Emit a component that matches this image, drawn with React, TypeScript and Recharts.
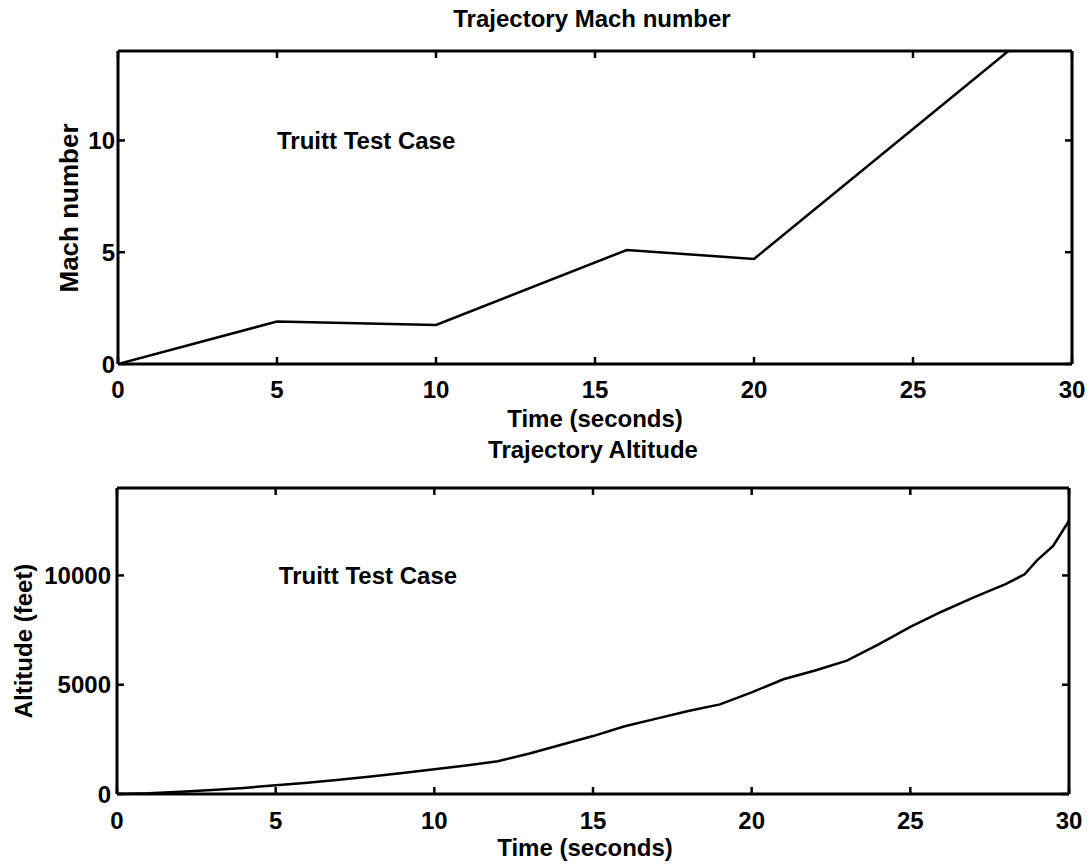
import {FunctionComponent, ReactNode} from 'react';
import {LineChart, Line, XAxis, YAxis, ReferenceDot} from 'recharts';

const machTime = [0, 5, 10, 16, 20, 28];
const machValue = [0, 1.9, 1.75, 5.1, 4.7, 14];

const altTime = [0, 1, 2, 3, 4, 5, 6, 7, 8, 9, 10, 11, 12, 13, 14, 15, 16, 17, 18, 19, 20, 21, 22, 23, 24, 25, 26, 27, 28, 28.6, 29, 29.5, 30];
const altValue = [0, 30, 100, 180, 280, 400, 520, 650, 800, 960, 1130, 1300, 1500, 1850, 2250, 2650, 3100, 3450, 3800, 4100, 4650, 5250, 5650, 6100, 6850, 7650, 8350, 9000, 9600, 10050, 10700, 11350, 12500];

const timeTicks = [0, 5, 10, 15, 20, 25, 30];
const machTicks = [0, 5, 10];
const altTicks = [0, 5000, 10000];

const machData = machTime.map((t, i) => ({t, v: machValue[i]}));
const altData = altTime.map((t, i) => ({t, v: altValue[i]}));

const FONT = '"Liberation Sans", Arial, Helvetica, sans-serif';
const textStyle = {fontFamily: FONT, fontSize: 24, fontWeight: 700, fill: '#000'};
const axisLine = {stroke: '#000', strokeWidth: 3};
const TICK = 7;

// inward tick marks (matlab style) drawn by the tick renderer itself
const bottomTick = (margin: number) => (props: any) => {
  const {x, y, payload} = props;
  const base = y - margin;
  return (
    <g>
      <line x1={x} x2={x} y1={base} y2={base - TICK} stroke="#000" strokeWidth={2.5} />
      <text x={x} y={y} dy="0.71em" textAnchor="middle" style={textStyle}>{payload.value}</text>
    </g>
  );
};

const leftTick = (margin: number) => (props: any) => {
  const {x, y, payload} = props;
  const base = x + margin;
  return (
    <g>
      <line x1={base} x2={base + TICK} y1={y} y2={y} stroke="#000" strokeWidth={2.5} />
      <text x={x} y={y} dy="0.355em" textAnchor="end" style={textStyle}>{payload.value}</text>
    </g>
  );
};

const topTick = (props: any) => (
  <line x1={props.x} x2={props.x} y1={props.y} y2={props.y + TICK} stroke="#000" strokeWidth={2.5} />
);

const rightTick = (props: any) => (
  <line x1={props.x} x2={props.x - TICK} y1={props.y} y2={props.y} stroke="#000" strokeWidth={2.5} />
);

// free text placed in chart pixels (titles and axis captions)
const caption = (value: string, x: number, y: number, rotate = false, size = 24) => ({
  content: () => (
    <text
      x={x}
      y={y}
      textAnchor="middle"
      dominantBaseline={rotate ? 'central' : 'alphabetic'}
      transform={rotate ? `rotate(-90 ${x} ${y})` : undefined}
      style={{...textStyle, fontSize: size}}
    >
      {value}
    </text>
  ),
});

type PanelProps = {
  data: {t: number; v: number}[];
  yMax: number;
  yTicks: number[];
  top: number;
  height: number;
  margin: {top: number; right: number; bottom: number; left: number};
  yWidth: number;
  xHeight: number;
  xMargin: number;
  yMargin: number;
  title: ReactNode;
  xLabel: ReactNode;
  yLabel: ReactNode;
  note: {t: number; v: number};
};

const Panel: FunctionComponent<PanelProps> = (p) => (
  <div style={{position: 'absolute', left: 0, top: p.top}}>
    <LineChart width={1089} height={p.height} data={p.data} margin={p.margin}>
      <XAxis
        xAxisId="top"
        orientation="top"
        dataKey="t"
        type="number"
        domain={[0, 30]}
        ticks={timeTicks}
        allowDataOverflow
        height={2}
        tick={topTick}
        tickSize={0}
        tickMargin={0}
        tickLine={false}
        axisLine={axisLine}
        label={p.title as any}
      />
      <XAxis
        xAxisId="bottom"
        dataKey="t"
        type="number"
        domain={[0, 30]}
        ticks={timeTicks}
        allowDataOverflow
        height={p.xHeight}
        tickSize={0}
        tickMargin={p.xMargin}
        tick={bottomTick(p.xMargin)}
        tickLine={false}
        axisLine={axisLine}
        label={p.xLabel as any}
      />
      <YAxis
        yAxisId="left"
        type="number"
        domain={[0, p.yMax]}
        ticks={p.yTicks}
        allowDataOverflow
        width={p.yWidth}
        tickSize={0}
        tickMargin={p.yMargin}
        tick={leftTick(p.yMargin)}
        tickLine={false}
        axisLine={axisLine}
        label={p.yLabel as any}
      />
      <YAxis
        yAxisId="right"
        orientation="right"
        type="number"
        domain={[0, p.yMax]}
        ticks={p.yTicks}
        allowDataOverflow
        width={1}
        tick={rightTick}
        tickSize={0}
        tickMargin={0}
        tickLine={false}
        axisLine={axisLine}
      />
      <Line
        xAxisId="bottom"
        yAxisId="left"
        dataKey="v"
        type="linear"
        stroke="#000"
        strokeWidth={2.5}
        dot={false}
        isAnimationActive={false}
      />
      <ReferenceDot
        xAxisId="bottom"
        yAxisId="left"
        x={p.note.t}
        y={p.note.v}
        r={0}
        fill="none"
        stroke="none"
        label={{value: 'Truitt Test Case', position: 'right', offset: 0, style: textStyle}}
      />
    </LineChart>
  </div>
);

export default (() => (
  <div style={{position: 'absolute', left: 0, top: 0, width: 1089, height: 865, background: '#fff'}}>
    <Panel
      data={machData}
      yMax={14}
      yTicks={machTicks}
      top={0}
      height={440}
      margin={{top: 49, right: 16, bottom: 0, left: 0}}
      yWidth={118}
      xHeight={76}
      xMargin={17}
      yMargin={3}
      title={caption('Trajectory Mach number', 592, 27)}
      xLabel={caption('Time (seconds)', 595, 427)}
      yLabel={caption('Mach number', 69, 208, true, 26)}
      note={{t: 5, v: 10}}
    />
    <Panel
      data={altData}
      yMax={14000}
      yTicks={altTicks}
      top={430}
      height={435}
      margin={{top: 56, right: 19, bottom: 0, left: 0}}
      yWidth={117}
      xHeight={71}
      xMargin={18}
      yMargin={6}
      title={caption('Trajectory Altitude', 593, 28)}
      xLabel={caption('Time (seconds)', 585, 426)}
      yLabel={caption('Altitude (feet)', 23, 211, true)}
      note={{t: 5.1, v: 10000}}
    />
  </div>
)) satisfies FunctionComponent;
